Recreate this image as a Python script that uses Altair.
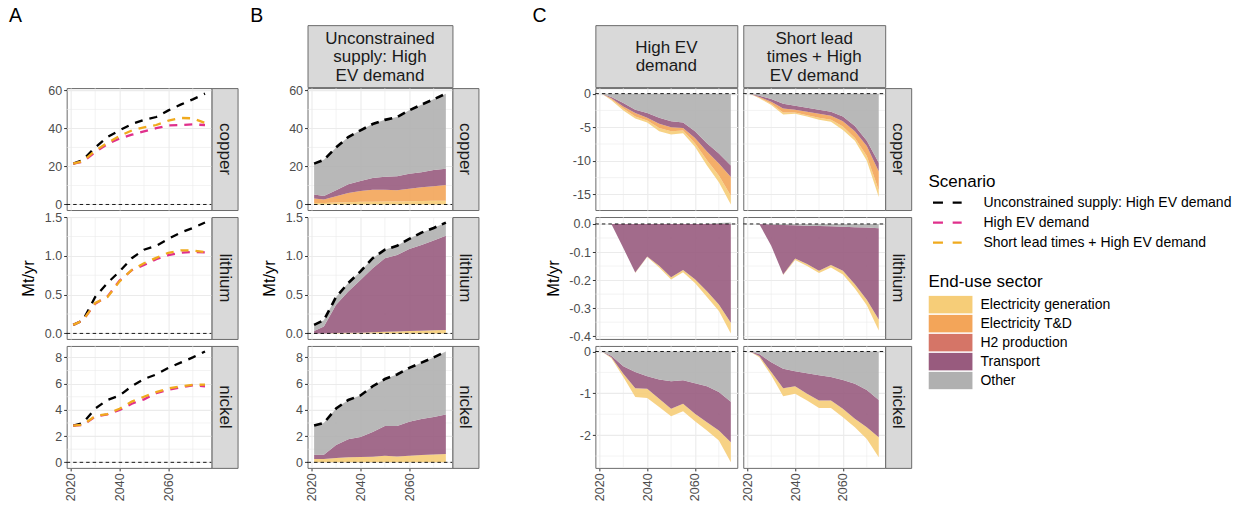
import altair as alt
import pandas as pd

FONT = "Liberation Sans"

YEARS = [2021, 2025, 2030, 2035, 2040, 2045, 2050, 2055, 2060, 2065, 2070, 2075]

SECTORS = ["Electricity generation", "Electricity T&D", "H2 production", "Transport", "Other"]
SECTOR_COLORS = ["#F6CD78", "#F3A559", "#D57567", "#985B7E", "#B0B0B0"]

SCENARIOS = ["Unconstrained supply: High EV demand", "High EV demand",
             "Short lead times + High EV demand"]
SCENARIO_COLORS = ["#000000", "#E0308C", "#F0AA1E"]

MINERALS = ["copper", "lithium", "nickel"]

# Demand by end-use sector, unconstrained supply with high EV demand (Mt/yr)
CU_UNC_GEN = [0.8, 0.8, 1.0, 1.2, 1.4, 1.5, 1.6, 1.6, 1.7, 1.8, 1.9, 2.0]
CU_UNC_TD = [2.3, 1.8, 3.3, 4.9, 5.7, 6.3, 6.2, 5.9, 6.6, 7.2, 7.7, 8.3]
CU_UNC_TRANSPORT = [2.1, 1.9, 3.2, 4.5, 5.2, 6.1, 6.8, 7.3, 7.9, 8.0, 8.5, 8.5]
CU_UNC_OTHER = [16.3, 19.0, 22.5, 24.9, 26.7, 28.4, 29.9, 31.2, 33.3, 35.5, 37.2, 39.5]

LI_UNC_GEN = [0.0, 0.0, 0.005, 0.01, 0.01, 0.015, 0.02, 0.025, 0.03, 0.035, 0.04, 0.045]
LI_UNC_TRANSPORT = [0.03, 0.09, 0.365, 0.53, 0.68, 0.825, 0.95, 0.985, 1.06, 1.105, 1.16, 1.215]
LI_UNC_OTHER = [0.08, 0.08, 0.10, 0.11, 0.11, 0.13, 0.11, 0.12, 0.13, 0.16, 0.16, 0.17]

NI_UNC_GEN = [0.25, 0.25, 0.33, 0.38, 0.4, 0.43, 0.5, 0.45, 0.5, 0.55, 0.6, 0.63]
NI_UNC_TRANSPORT = [0.33, 0.33, 1.0, 1.38, 1.54, 1.89, 2.27, 2.32, 2.6, 2.75, 2.85, 3.02]
NI_UNC_OTHER = [2.22, 2.42, 2.77, 2.99, 3.16, 3.48, 3.58, 3.93, 4.1, 4.3, 4.55, 4.8]

# Change in demand vs. unconstrained supply: High EV demand scenario (Mt/yr)
CU_HEV_GEN = [0, -0.15, -0.3, -0.3, -0.3, -0.5, -0.5, -0.4, -0.5, -0.8, -1.0, -1.3]
CU_HEV_TD = [0, -0.15, -0.3, -0.5, -0.4, -0.6, -0.6, -0.4, -0.8, -1.3, -1.8, -2.8]
CU_HEV_TRANSPORT = [0, -0.2, -0.5, -0.5, -0.7, -0.9, -0.9, -0.8, -1.0, -1.2, -1.5, -1.7]
CU_HEV_OTHER = [0, -0.5, -1.4, -2.4, -2.9, -3.6, -4.1, -4.3, -5.6, -7.4, -8.9, -10.7]

LI_HEV_GEN = [0, 0, 0, -0.002, -0.002, -0.006, -0.008, -0.008, -0.013, -0.02, -0.023, -0.038]
LI_HEV_TRANSPORT = [0, 0, -0.086, -0.173, -0.116, -0.149, -0.19, -0.164, -0.197, -0.24, -0.287, -0.352]
LI_HEV_OTHER = [0, 0, 0, 0, 0, 0, 0, 0, 0, 0, 0.003, 0.005]

NI_HEV_GEN = [0, -0.02, -0.08, -0.21, -0.22, -0.20, -0.18, -0.18, -0.18, -0.20, -0.24, -0.48]
NI_HEV_TRANSPORT = [0, -0.04, -0.18, -0.39, -0.30, -0.46, -0.66, -0.56, -0.73, -0.86, -0.92, -0.97]
NI_HEV_OTHER = [0, -0.1, -0.35, -0.49, -0.59, -0.67, -0.71, -0.69, -0.76, -0.83, -0.97, -1.2]

# Change in demand: Short lead times + High EV demand scenario (Mt/yr)
CU_SLT_GEN = [0, -0.1, -0.2, -0.3, -0.2, -0.2, -0.3, -0.3, -0.5, -0.4, -0.7, -1.0]
CU_SLT_TD = [0, -0.1, -0.3, -0.6, -0.4, -0.5, -0.6, -0.6, -0.8, -1.0, -1.5, -2.8]
CU_SLT_TRANSPORT = [0, -0.2, -0.4, -0.7, -0.6, -0.6, -0.6, -0.6, -0.7, -0.8, -0.8, -1.3]
CU_SLT_OTHER = [0, -0.3, -0.8, -1.5, -1.8, -2.1, -2.4, -2.7, -3.4, -4.8, -7.0, -10.3]

LI_SLT_GEN = [0, 0, 0, -0.002, -0.005, -0.007, -0.008, -0.009, -0.013, -0.015, -0.02, -0.04]
LI_SLT_TRANSPORT = [0, 0, -0.076, -0.176, -0.118, -0.137, -0.16, -0.138, -0.157, -0.203, -0.257, -0.325]
LI_SLT_OTHER = [0, 0, -0.002, -0.004, -0.005, -0.006, -0.007, -0.008, -0.01, -0.012, -0.013, -0.015]

NI_SLT_GEN = [0, -0.03, -0.08, -0.19, -0.18, -0.16, -0.18, -0.18, -0.20, -0.20, -0.28, -0.48]
NI_SLT_TRANSPORT = [0, -0.05, -0.23, -0.47, -0.36, -0.49, -0.60, -0.56, -0.69, -0.84, -0.89, -0.89]
NI_SLT_OTHER = [0, -0.06, -0.26, -0.41, -0.47, -0.52, -0.57, -0.61, -0.68, -0.77, -0.92, -1.16]

# Axis breaks
X_TICKS = [2020, 2040, 2060]
X_MINOR = [2030, 2050, 2070]
POS_TICKS = {"copper": [0, 20, 40, 60], "lithium": [0, 0.5, 1.0, 1.5], "nickel": [0, 2, 4, 6, 8]}
POS_MINOR = {"copper": [10, 30, 50], "lithium": [0.25, 0.75, 1.25], "nickel": [1, 3, 5, 7]}
NEG_TICKS = {"copper": [-15, -10, -5, 0], "lithium": [-0.4, -0.3, -0.2, -0.1, 0.0], "nickel": [-2, -1, 0]}
NEG_MINOR = {"copper": [-12.5, -7.5, -2.5], "lithium": [-0.35, -0.25, -0.15, -0.05],
             "nickel": [-2.5, -1.5, -0.5]}
FMT = {"copper": "d", "lithium": ".1f", "nickel": "d"}

STRIP_B = "Unconstrained\nsupply: High\nEV demand"
STRIP_C = {"High EV demand": "High EV\ndemand",
           "Short lead times + High EV demand": "Short lead\ntimes + High\nEV demand"}

UNCONSTRAINED = {
    "copper": {"Electricity generation": CU_UNC_GEN, "Electricity T&D": CU_UNC_TD,
               "Transport": CU_UNC_TRANSPORT, "Other": CU_UNC_OTHER},
    "lithium": {"Electricity generation": LI_UNC_GEN, "Transport": LI_UNC_TRANSPORT, "Other": LI_UNC_OTHER},
    "nickel": {"Electricity generation": NI_UNC_GEN, "Transport": NI_UNC_TRANSPORT, "Other": NI_UNC_OTHER},
}
CHANGE = {
    "High EV demand": {
        "copper": {"Electricity generation": CU_HEV_GEN, "Electricity T&D": CU_HEV_TD,
                   "Transport": CU_HEV_TRANSPORT, "Other": CU_HEV_OTHER},
        "lithium": {"Electricity generation": LI_HEV_GEN, "Transport": LI_HEV_TRANSPORT, "Other": LI_HEV_OTHER},
        "nickel": {"Electricity generation": NI_HEV_GEN, "Transport": NI_HEV_TRANSPORT, "Other": NI_HEV_OTHER},
    },
    "Short lead times + High EV demand": {
        "copper": {"Electricity generation": CU_SLT_GEN, "Electricity T&D": CU_SLT_TD,
                   "Transport": CU_SLT_TRANSPORT, "Other": CU_SLT_OTHER},
        "lithium": {"Electricity generation": LI_SLT_GEN, "Transport": LI_SLT_TRANSPORT, "Other": LI_SLT_OTHER},
        "nickel": {"Electricity generation": NI_SLT_GEN, "Transport": NI_SLT_TRANSPORT, "Other": NI_SLT_OTHER},
    },
}
C_SCENARIOS = ["High EV demand", "Short lead times + High EV demand"]

# Layout (pixels)
W_AB, W_C, H, SW, HEAD_H = 145, 142, 122, 26, 62
GAP_AB, GAP_BC, GAP_C = 69.6, 116.4, 6
GAP_HEAD, GAP_ROW = 1, 7
LINE_H = 18.5
GRID = "#EBEBEB"
BORDER = "#6A6A6A"
STRIP_FILL = "#D9D9D9"
STRIP_TEXT = "#1A1A1A"


def padded(lo, hi, frac=0.05):
    span = hi - lo
    return [lo - frac * span, hi + frac * span]


def totals(table):
    return [sum(vals[i] for vals in table.values()) for i in range(len(YEARS))]


def sector_frame(table, order):
    rows = []
    for sector, vals in table.items():
        for yr, v in zip(YEARS, vals):
            rows.append({"year": yr, "sector": sector, "value": v, "ord": order.index(sector)})
    return pd.DataFrame(rows)


# Scenario totals for panel A
line_rows = []
for m in MINERALS:
    base = totals(UNCONSTRAINED[m])
    series = {SCENARIOS[0]: base}
    for sc in C_SCENARIOS:
        series[sc] = [b + d for b, d in zip(base, totals(CHANGE[sc][m]))]
    for sc in SCENARIOS:
        for yr, v in zip(YEARS, series[sc]):
            line_rows.append({"mineral": m, "scenario": sc, "year": yr, "value": v})
LINES = pd.DataFrame(line_rows)

DOM_POS = {}
DOM_NEG = {}
for m in MINERALS:
    vals = LINES[LINES.mineral == m]["value"]
    DOM_POS[m] = padded(min(0.0, vals.min()), vals.max())
    lo, hi = 0.0, 0.0
    for sc in C_SCENARIOS:
        tab = CHANGE[sc][m]
        for i in range(len(YEARS)):
            lo = min(lo, sum(v[i] for v in tab.values() if v[i] < 0))
            hi = max(hi, sum(v[i] for v in tab.values() if v[i] > 0))
    DOM_NEG[m] = padded(lo, hi)

B_ORDER = SECTORS
C_ORDER = SECTORS[::-1]

X_SCALE = alt.Scale(domain=padded(min(YEARS), max(YEARS)), nice=False, zero=False)

FILL = dict(
    scale=alt.Scale(domain=SECTORS, range=SECTOR_COLORS),
    legend=alt.Legend(title="End-use sector", orient="none", legendX=862.3, legendY=249.5,
                      symbolType="M-1,-0.4H1V0.4H-1Z", symbolSize=1936, symbolStrokeWidth=0,
                      clipHeight=18.3, rowPadding=0, labelOffset=8, titlePadding=4,
                      labelFontSize=14, titleFontSize=17, labelLimit=400),
)
STROKE = dict(
    scale=alt.Scale(domain=SCENARIOS, range=SCENARIO_COLORS),
    legend=alt.Legend(title="Scenario", orient="none", legendX=862.3, legendY=148.5,
                      symbolType="stroke", symbolSize=1936, symbolStrokeWidth=2.2,
                      symbolDash=[0, 3, 10, 9.7, 9, 12.3], clipHeight=19.3, rowPadding=0,
                      labelOffset=8, titlePadding=2.5, labelFontSize=14, titleFontSize=17,
                      labelLimit=400),
)


def x_enc(bottom):
    return alt.X("year:Q", scale=X_SCALE,
                 axis=alt.Axis(values=X_TICKS, grid=True, labels=bottom, ticks=bottom,
                               labelAngle=270, labelFlush=False, labelOverlap=False,
                               format="d", title=None))


def y_enc(domain, ticks, fmt, title_x=None, stack=False, labels=True):
    kw = dict(values=ticks, grid=True, labelFlush=False, labelOverlap=False,
              labels=labels, ticks=labels,
              labelExpr=f"replace(format(datum.value, '{fmt}'), '\u2212', '-')")
    if title_x is not None:
        kw.update(title="Mt/yr", titleX=title_x, titleY=H / 2, titleAngle=270,
                  titleAlign="center", titleBaseline="bottom")
    else:
        kw["title"] = None
    args = dict(scale=alt.Scale(domain=domain, nice=False, zero=False), axis=alt.Axis(**kw))
    if stack:
        args["stack"] = "zero"
    return alt.Y("value:Q", **args)


def minor_grid(x, y, minor):
    vx = alt.Chart(pd.DataFrame({"year": X_MINOR})).mark_rule(color=GRID, strokeWidth=0.6).encode(x=x)
    hy = alt.Chart(pd.DataFrame({"value": minor})).mark_rule(color=GRID, strokeWidth=0.6).encode(y=y)
    return [vx, hy]


def zero_rule(y, width):
    return alt.Chart(pd.DataFrame({"value": [0.0]})).mark_rule(
        color="black", strokeWidth=0.9, strokeDash=[3.5, 3]
    ).encode(y=y, x=alt.value(0), x2=alt.value(width))


def panel_a(m, bottom):
    x = x_enc(bottom)
    tx = -30.5 if m == "lithium" else None
    y = y_enc(DOM_POS[m], POS_TICKS[m], FMT[m], tx)
    layers = minor_grid(x, y, POS_MINOR[m]) + [zero_rule(y, W_AB)]
    for sc in SCENARIOS:
        d = LINES[(LINES.mineral == m) & (LINES.scenario == sc)][["year", "value", "scenario"]]
        layers.append(
            alt.Chart(d).mark_line(strokeDash=[8, 7], strokeWidth=2.3).encode(
                x=x, y=y, stroke=alt.Stroke("scenario:N", **STROKE))
        )
    return alt.layer(*layers).properties(width=W_AB, height=H)


def panel_b(m, bottom):
    x = x_enc(bottom)
    tx = -30 if m == "lithium" else None
    y = y_enc(DOM_POS[m], POS_TICKS[m], FMT[m], tx)
    ys = y_enc(DOM_POS[m], POS_TICKS[m], FMT[m], tx, stack=True)
    area = alt.Chart(sector_frame(UNCONSTRAINED[m], B_ORDER)).mark_area(fillOpacity=0.9).encode(
        x=x, y=ys, fill=alt.Fill("sector:N", **FILL), order=alt.Order("ord:Q"))
    total = alt.Chart(pd.DataFrame({"year": YEARS, "value": totals(UNCONSTRAINED[m])})).mark_line(
        color="black", strokeDash=[8, 6], strokeWidth=2.6).encode(x=x, y=y)
    layers = minor_grid(x, y, POS_MINOR[m]) + [area, zero_rule(y, W_AB), total]
    return alt.layer(*layers).properties(width=W_AB, height=H)


def panel_c(m, sc, bottom, first):
    x = x_enc(bottom)
    tx = -33.5 if (m == "lithium" and first) else None
    y = y_enc(DOM_NEG[m], NEG_TICKS[m], FMT[m], tx, labels=first)
    ys = y_enc(DOM_NEG[m], NEG_TICKS[m], FMT[m], tx, stack=True, labels=first)
    area = alt.Chart(sector_frame(CHANGE[sc][m], C_ORDER)).mark_area(fillOpacity=0.9).encode(
        x=x, y=ys, fill=alt.Fill("sector:N", **FILL), order=alt.Order("ord:Q"))
    layers = minor_grid(x, y, NEG_MINOR[m]) + [area, zero_rule(y, W_C)]
    return alt.layer(*layers).properties(width=W_C, height=H)


def right_strip(label):
    return alt.Chart(pd.DataFrame({"label": [label]})).mark_text(
        angle=90, fontSize=17, color=STRIP_TEXT, font=FONT
    ).encode(text="label:N", x=alt.value(SW / 2), y=alt.value(H / 2)).properties(
        width=SW, height=H, view=alt.ViewBackground(fill=STRIP_FILL, stroke=BORDER))


def blank(w, h):
    return alt.Chart(pd.DataFrame({"label": [""]})).mark_text().encode(
        text="label:N").properties(
        width=w, height=h, view=alt.ViewBackground(fill="transparent", stroke="transparent"))


def letter(ch, dx):
    return alt.Chart(pd.DataFrame({"label": [ch]})).mark_text(
        align="left", baseline="alphabetic", fontSize=19.5, color="black", font=FONT
    ).encode(text="label:N", x=alt.value(dx), y=alt.value(-3))


def header(label, width, ch=None, dx=0):
    layers = []
    if label:
        n_lines = label.count("\n") + 1
        y0 = HEAD_H / 2 + 1 - (n_lines - 1) * LINE_H / 2
        layers.append(alt.Chart(pd.DataFrame({"label": [label]})).mark_text(
            fontSize=17, color=STRIP_TEXT, font=FONT, lineBreak="\n", lineHeight=LINE_H,
            baseline="middle", align="center"
        ).encode(text="label:N", x=alt.value(width / 2), y=alt.value(y0)))
    if ch:
        layers.append(letter(ch, dx))
    if label:
        view = alt.ViewBackground(fill=STRIP_FILL, stroke=BORDER)
    else:
        view = alt.ViewBackground(fill="transparent", stroke="transparent")
    return alt.layer(*layers).properties(width=width, height=HEAD_H, view=view)


# Grid of cells: 10 columns (plots, strips and gaps), 7 rows (header, gaps, minerals)
COL_W = [W_AB, SW, GAP_AB, W_AB, SW, GAP_BC, W_C, GAP_C, W_C, SW]


def gap_row(h):
    return [blank(w, h) for w in COL_W]


cells = [
    header(None, W_AB, "A", -57.7), blank(SW, HEAD_H), blank(GAP_AB, HEAD_H),
    header(STRIP_B, W_AB, "B", -57.3), blank(SW, HEAD_H), blank(GAP_BC, HEAD_H),
    header(STRIP_C[C_SCENARIOS[0]], W_C, "C", -63), blank(GAP_C, HEAD_H),
    header(STRIP_C[C_SCENARIOS[1]], W_C), blank(SW, HEAD_H),
]
cells += gap_row(GAP_HEAD)
for i, m in enumerate(MINERALS):
    bottom = m == "nickel"
    cells += [
        panel_a(m, bottom), right_strip(m), blank(GAP_AB, H),
        panel_b(m, bottom), right_strip(m), blank(GAP_BC, H),
        panel_c(m, C_SCENARIOS[0], bottom, True), blank(GAP_C, H),
        panel_c(m, C_SCENARIOS[1], bottom, False), right_strip(m),
    ]
    if i < len(MINERALS) - 1:
        cells += gap_row(GAP_ROW)

chart = alt.concat(
    *cells, columns=len(COL_W), spacing=0, bounds="flush", align="each"
).properties(
    padding={"left": 7.7, "top": 5, "right": 5, "bottom": 5},
    background="white",
).configure_view(
    stroke=BORDER, strokeWidth=1
).configure_axis(
    domain=False, labelFont=FONT, labelFontSize=12.5, labelColor="#4D4D4D",
    tickColor="#333333", tickSize=3, tickWidth=1, labelPadding=2,
    gridColor=GRID, gridWidth=1.1,
    titleFont=FONT, titleFontSize=16.5, titleFontWeight="normal", titleColor="black",
).configure_legend(
    labelFont=FONT, titleFont=FONT, titleFontWeight="normal", titleColor="black",
    labelColor="black",
).configure_text(font=FONT)

chart.save("out.html", embed_options={"renderer": "svg", "actions": False})
